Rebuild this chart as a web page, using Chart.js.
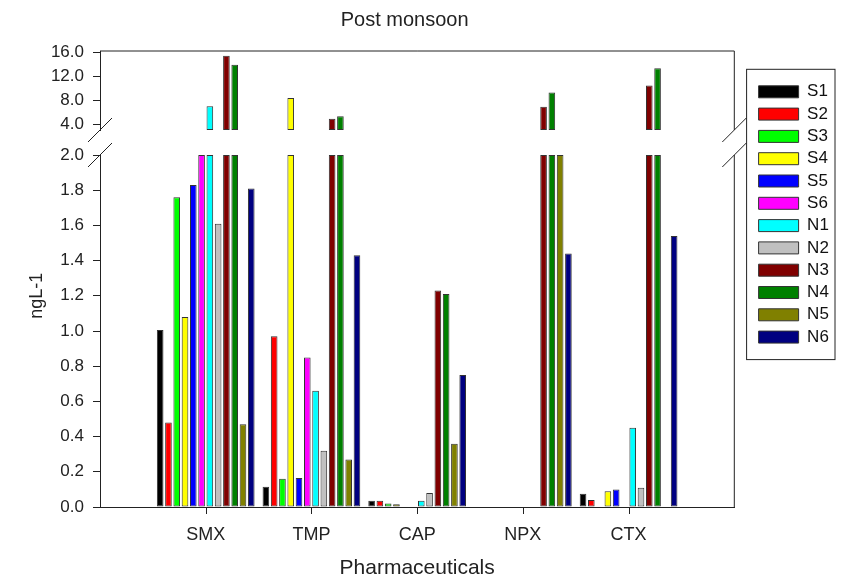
<!DOCTYPE html>
<html lang="en">
<head>
<meta charset="UTF-8">
<title>Post monsoon</title>
<script src="https://cdn.jsdelivr.net/npm/chart.js"></script>
<style>
  html, body { margin: 0; padding: 0; background: #fff; }
  #wrap { width: 845px; height: 581px; }
</style>
</head>
<body>
<div id="wrap"><canvas id="chart"></canvas></div>
<script>
const FONT = '"Liberation Sans", Arial, sans-serif';
const INK = '#222';

const categories = ['SMX', 'TMP', 'CAP', 'NPX', 'CTX'];
const seriesNames = ['S1', 'S2', 'S3', 'S4', 'S5', 'S6', 'N1', 'N2', 'N3', 'N4', 'N5', 'N6'];
const seriesColors = ['#000000', '#ff0000', '#00ff00', '#ffff00', '#0000ff', '#ff00ff',
                      '#00ffff', '#c0c0c0', '#800000', '#008000', '#808000', '#000080'];

// ngL-1, in category order: SMX, TMP, CAP, NPX, CTX
const S1 = [1.005, 0.115, 0.035, 0, 0.075];
const S2 = [0.48, 0.97, 0.035, 0, 0.04];
const S3 = [1.76, 0.16, 0.02, 0, 0];
const S4 = [1.08, 8.4, 0.015, 0, 0.09];
const S5 = [1.83, 0.165, 0, 0, 0.10];
const S6 = [2.5, 0.85, 0, 0, 0];
const N1 = [7.0, 0.66, 0.035, 0, 0.45];
const N2 = [1.61, 0.32, 0.08, 0, 0.11];
const N3 = [15.5, 4.9, 1.23, 6.9, 10.5];
const N4 = [14.0, 5.3, 1.21, 9.3, 13.4];
const N5 = [0.47, 0.27, 0.36, 2.5, 0];
const N6 = [1.81, 1.43, 0.75, 1.44, 1.54];
const seriesValues = [S1, S2, S3, S4, S5, S6, N1, N2, N3, N4, N5, N6];

// broken y axis: lower part 0-2, upper part 3-16.3
const lowerTicks = [0, 0.2, 0.4, 0.6, 0.8, 1.0, 1.2, 1.4, 1.6, 1.8, 2.0];
const upperTicks = [4, 8, 12, 16];
const lowerMax = 2.0;
const upperMin = 3.0;
const upperMax = 16.3;

// one empty slot on each side of the categories
const xLabels = [''].concat(categories, ['']);

const datasets = [];
seriesNames.forEach((name, i) => {
    const padded = [null].concat(seriesValues[i], [null]);
    datasets.push({
        label: name,
        stack: name,
        yAxisID: 'yLower',
        data: padded.map(v => v === null ? null : Math.min(v, lowerMax)),
        backgroundColor: seriesColors[i],
        borderColor: '#333',
        borderWidth: 1,
        borderSkipped: false
    });
});
seriesNames.forEach((name, i) => {
    const padded = [null].concat(seriesValues[i], [null]);
    datasets.push({
        label: name + ' (upper)',
        stack: name,
        yAxisID: 'yUpper',
        base: upperMin,
        data: padded.map(v => (v !== null && v > upperMin) ? v : null),
        backgroundColor: seriesColors[i],
        borderColor: '#333',
        borderWidth: 1,
        borderSkipped: false
    });
});

const tickFont = { family: FONT, size: 17 };

function yAxis(extra) {
    return Object.assign({
        type: 'linear',
        position: 'left',
        stack: 'left',
        stacked: false,
        border: { display: true, color: INK, width: 1 },
        grid: { drawOnChartArea: false, drawTicks: true, tickLength: 7, tickColor: INK },
        ticks: { font: tickFont, color: INK, padding: 9, autoSkip: false, callback: v => Number(v).toFixed(1) },
        afterFit: s => { s.width = 100; }
    }, extra);
}

// frame, axis break marks, x tick marks, y title and legend box
const framePlugin = {
    id: 'frame',
    afterDraw(chart) {
        const { ctx, chartArea, scales } = chart;
        const up = scales.yUpper, lo = scales.yLower, x = scales.x;
        ctx.save();
        ctx.strokeStyle = INK;
        ctx.lineWidth = 1;
        ctx.beginPath();
        ctx.moveTo(chartArea.left, chartArea.top);
        ctx.lineTo(chartArea.right, chartArea.top);
        ctx.moveTo(chartArea.right, up.top);
        ctx.lineTo(chartArea.right, up.bottom);
        ctx.moveTo(chartArea.right, lo.top);
        ctx.lineTo(chartArea.right, lo.bottom);
        [chartArea.left, chartArea.right].forEach(px => {
            [up.bottom, lo.top].forEach(py => {
                ctx.moveTo(px - 12, py + 12);
                ctx.lineTo(px + 12, py - 12);
            });
        });
        ctx.stroke();

        // tick marks under the named categories only
        ctx.beginPath();
        x.ticks.forEach((t, i) => {
            if (!xLabels[i]) return;
            const px = Math.round(x.getPixelForTick(i)) + 0.5;
            ctx.moveTo(px, x.top);
            ctx.lineTo(px, x.top + 7);
        });
        ctx.stroke();

        // axis title sits a little above the middle of the lower part
        ctx.translate(37, lo.top + (lo.bottom - lo.top) * 0.4);
        ctx.rotate(-Math.PI / 2);
        ctx.fillStyle = INK;
        ctx.font = '18px ' + FONT;
        ctx.textAlign = 'center';
        ctx.textBaseline = 'middle';
        ctx.fillText('ngL-1', 0, 0);
        ctx.setTransform(1, 0, 0, 1, 0, 0);

        const hb = chart.legend.legendHitBoxes;
        if (hb && hb.length) {
            const first = hb[0], last = hb[hb.length - 1];
            const x0 = first.left - 12, y0 = first.top - 14;
            const x1 = chart.legend.right - 2, y1 = last.top + last.height + 14;
            ctx.strokeRect(x0, y0, x1 - x0, y1 - y0);
        }
        ctx.restore();
    }
};

new Chart(document.getElementById('chart'), {
    type: 'bar',
    data: { labels: xLabels, datasets: datasets },
    options: {
        responsive: true,
        maintainAspectRatio: false,
        animation: false,
        categoryPercentage: 0.94,
        barPercentage: 0.8,
        layout: { padding: { left: 0, right: 8, top: 0, bottom: 0 } },
        scales: {
            x: {
                type: 'category',
                offset: false,
                border: { display: true, color: INK, width: 1 },
                grid: { display: false, drawTicks: true, tickLength: 7 },
                ticks: { font: { family: FONT, size: 18 }, color: INK, padding: 10, autoSkip: false, maxRotation: 0 },
                title: { display: true, text: 'Pharmaceuticals', font: { family: FONT, size: 21 }, color: INK, padding: { top: 0, bottom: 0 } },
                afterFit: s => { s.height = 74; }
            },
            yUpper: yAxis({
                weight: 3,
                stackWeight: 79,
                min: upperMin,
                max: upperMax,
                afterBuildTicks: s => { s.ticks = upperTicks.map(v => ({ value: v })); }
            }),
            yGap: {
                type: 'linear',
                position: 'left',
                stack: 'left',
                weight: 2,
                stackWeight: 25,
                display: true,
                border: { display: false },
                grid: { display: false },
                ticks: { display: false },
                afterFit: s => { s.width = 100; }
            },
            yLower: yAxis({
                weight: 1,
                stackWeight: 352,
                min: 0,
                max: lowerMax,
                afterBuildTicks: s => { s.ticks = lowerTicks.map(v => ({ value: v })); }
            }),
            ySpacer: {
                type: 'linear',
                position: 'right',
                display: true,
                border: { display: false },
                grid: { display: false },
                ticks: { display: false },
                afterFit: s => { s.width = 19; }
            }
        },
        plugins: {
            title: {
                display: true,
                text: 'Post monsoon\u00a0\u00a0\u00a0\u00a0\u00a0',
                color: INK,
                font: { family: FONT, size: 20, weight: 'normal' },
                padding: { top: 8, bottom: 19 }
            },
            legend: {
                position: 'right',
                fullSize: false,
                align: 'start',
                title: { display: true, text: '', padding: { top: 26, bottom: 0 }, font: { size: 1, lineHeight: 1 } },
                labels: {
                    boxWidth: 40,
                    boxHeight: 12,
                    padding: 5.3,
                    color: '#111',
                    font: { family: FONT, size: 17 },
                    filter: item => item.datasetIndex < seriesNames.length
                }
            },
            tooltip: { enabled: false }
        }
    },
    plugins: [framePlugin]
});
</script>
</body>
</html>
